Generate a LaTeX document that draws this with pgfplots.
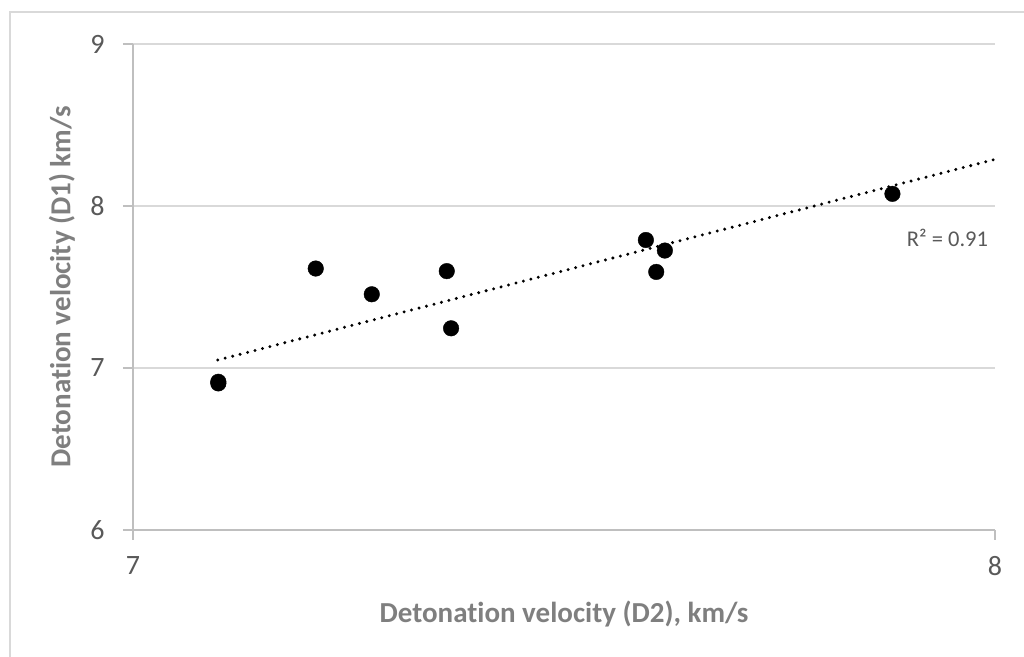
\documentclass[border=0pt]{standalone}
\usepackage{fontspec}
\setmainfont{Carlito}[Ligatures=NoCommon]
\usepackage{pgfplots}
\pgfplotsset{compat=1.18}
\usetikzlibrary{calc}
\definecolor{tickgray}{HTML}{595959}
\definecolor{titlegray}{HTML}{7F7F7F}
\definecolor{gridgray}{HTML}{D9D9D9}
\definecolor{axisgray}{HTML}{BFBFBF}
\begin{document}
\begin{tikzpicture}
\begin{axis}[
  scale only axis,
  width=862pt, height=486pt,
  xmin=7, xmax=8, ymin=6, ymax=9,
  xtick={7,8}, ytick={6,7,8,9},
  axis x line*=bottom, axis y line*=left,
  axis line style={axisgray, line width=1.3pt, -},
  ymajorgrids, grid style={gridgray, line width=1.3pt},
  tick align=outside, major tick length=10pt,
  tick style={axisgray, line width=1.3pt},
  /pgf/number format/assume math mode=true,
  ticklabel style={font=\fontsize{28}{28}\selectfont, text=tickgray},
  xticklabel style={yshift=-13pt},
  yticklabel style={xshift=-15pt},
  xlabel={Detonation velocity (D2), km/s},
  ylabel={Detonation velocity (D1) km/s},
  label style={font=\fontsize{29}{29}\selectfont\bfseries, text=titlegray},
  xlabel style={at={(axis description cs:0.5,-0.1728)}, anchor=center},
  ylabel style={at={(axis description cs:-0.0824,0.5)}, anchor=center, rotate=0},
  clip=false,
]
\addplot[only marks, mark=*, mark size=7.8pt, mark options={fill=black, draw=black}] coordinates {
  (7.099,6.915) (7.099,6.905) (7.212,7.614) (7.277,7.455) (7.364,7.598) (7.369,7.245)
  (7.595,7.790) (7.607,7.593) (7.617,7.725) (7.881,8.075)
};
\addplot[black, line width=3.3pt, dash pattern=on 0pt off 7.7pt, line cap=round] coordinates {
  (7.0983,7.049) (8,8.288)
};
\node[anchor=east, font=\fontsize{22.5}{22.5}\selectfont, text=tickgray] at (axis cs:7.996,7.80) {R² = 0.91};
\end{axis}
\draw[gridgray, line width=1.3pt] ($(current axis.south west)+(-123pt,-200pt)$) -- ($(current axis.south west)+(-123pt,518pt)$) -- ($(current axis.south west)+(1000pt,518pt)$);
\pgfresetboundingbox
\path[use as bounding box] ($(current axis.south west)+(-133pt,-127pt)$) rectangle ($(current axis.north east)+(29pt,44pt)$);
\end{tikzpicture}
\end{document}
